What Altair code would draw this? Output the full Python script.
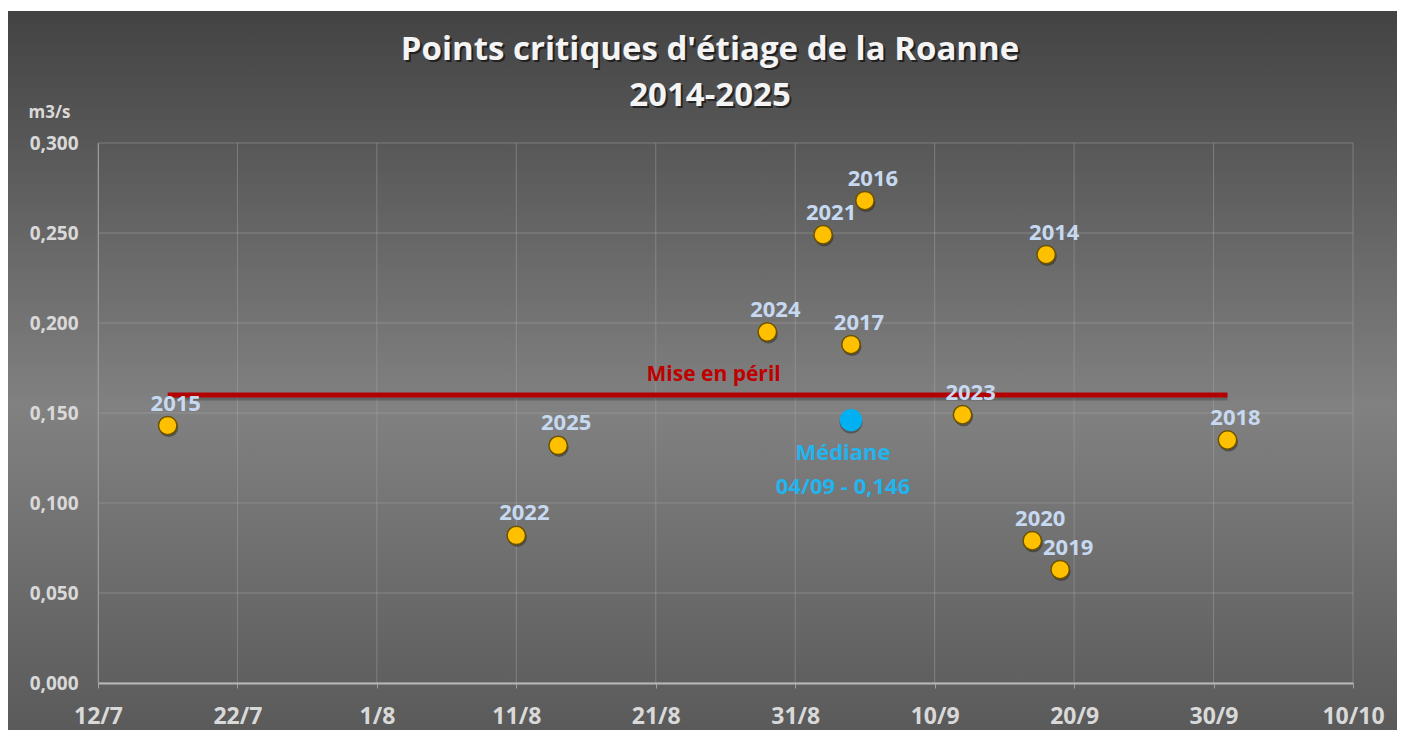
import altair as alt
import pandas as pd

# ---- data ----
title_lines = ["Points critiques d'étiage de la Roanne", "2014-2025"]
y_unit = "m3/s"

years = [2014, 2015, 2016, 2017, 2018, 2019, 2020, 2021, 2022, 2023, 2024, 2025]
crit_dates = ["18/9", "17/7", "5/9", "4/9", "1/10", "19/9", "17/9", "2/9", "11/8", "12/9", "29/8", "14/8"]
crit_values = [0.238, 0.143, 0.268, 0.188, 0.135, 0.063, 0.079, 0.249, 0.082, 0.149, 0.195, 0.132]

median_date = "4/9"
median_value = 0.146
median_text = ["Médiane", "04/09 - 0,146"]

peril_value = 0.160
peril_start = "17/7"
peril_end = "1/10"
peril_text = "Mise en péril"

x_tick_labels = ["12/7", "22/7", "1/8", "11/8", "21/8", "31/8", "10/9", "20/9", "30/9", "10/10"]
y_ticks = [0.0, 0.05, 0.10, 0.15, 0.20, 0.25, 0.30]

BASE_YEAR = 2024


def iso(dm):
    d, m = dm.split("/")
    return f"{BASE_YEAR}-{int(m):02d}-{int(d):02d}"


def dt(dm):
    d, m = dm.split("/")
    return alt.DateTime(year=BASE_YEAR, month=int(m), date=int(d), utc=True)


W, H = 1255, 540
PAD = {"left": 90, "top": 135, "right": 44, "bottom": 47}

pts = pd.DataFrame({"year": [str(y) for y in years],
                    "date": [iso(d) for d in crit_dates],
                    "value": crit_values})
med = pd.DataFrame({"date": [iso(median_date)], "value": [median_value],
                    "label": ["\n".join(median_text)]})
peril = pd.DataFrame({"date": [iso(peril_start)], "date2": [iso(peril_end)],
                      "value": [peril_value]})
s = pd.Timestamp(iso(peril_start)); e = pd.Timestamp(iso(peril_end))
peril_mid = pd.DataFrame({"date": [(s + (e - s) / 2).strftime("%Y-%m-%d")],
                          "value": [peril_value], "label": [peril_text]})
gx = pd.DataFrame({"date": [iso(t) for t in x_tick_labels]})
gy = pd.DataFrame({"value": y_ticks})

FONT = "Open Sans"
LABEL_COL = "#d9d9d9"

x_scale = alt.Scale(type="utc", domain=[dt(x_tick_labels[0]), dt(x_tick_labels[-1])])
y_scale = alt.Scale(domain=[0, 0.3])

x_axis = alt.Axis(values=[dt(t) for t in x_tick_labels], grid=False,
                  ticks=True, tickSize=5, tickColor="#a0a0a0", tickWidth=1,
                  labelExpr="utcFormat(datum.value, '%-d/%-m')", labelFlush=False,
                  labelColor=LABEL_COL, labelFont=FONT, labelFontSize=23,
                  labelFontWeight="bold", labelPadding=17,
                  domainColor="#b8b8b8", domainWidth=2, zindex=1, title=None)
y_axis = alt.Axis(values=y_ticks, grid=False, ticks=False, labelFlush=False,
                  labelExpr="replace(format(datum.value, '.3f'), '.', ',')",
                  labelColor=LABEL_COL, labelFont=FONT, labelFontSize=19,
                  labelFontWeight="bold", labelPadding=20,
                  domainColor="#9a9a9a", domainWidth=1, zindex=1,
                  title=y_unit, titleAngle=0, titleX=-70, titleY=-31,
                  titleAlign="left", titleBaseline="middle",
                  titleColor=LABEL_COL, titleFont=FONT, titleFontSize=17,
                  titleFontWeight="bold")


def X(field="date"):
    return alt.X(f"{field}:T", scale=x_scale, axis=x_axis)


def Y(field="value"):
    return alt.Y(f"{field}:Q", scale=y_scale, axis=y_axis)


bg = alt.Chart(pd.DataFrame({"k": [0]})).mark_rect(
    color=alt.LinearGradient(
        gradient="linear", x1=0, y1=0, x2=0, y2=1,
        stops=[alt.GradientStop(color="#444343", offset=0),
               alt.GradientStop(color="#828181", offset=0.55),
               alt.GradientStop(color="#5a5a5a", offset=1)])
).encode(x=alt.value(-90), x2=alt.value(W + PAD["right"]),
         y=alt.value(-132), y2=alt.value(H + PAD["bottom"]))

title_layers = []
for i, line in enumerate(title_lines):
    tdf = pd.DataFrame({"t": [line]})
    ty = -93 + 46 * i
    title_layers.append(alt.Chart(tdf).mark_text(
        color="#000000", opacity=0.55, font=FONT, fontSize=33, fontWeight="bold",
        align="center", baseline="middle", dx=2, dy=2).encode(
        x=alt.value(612), y=alt.value(ty), text="t:N"))
    title_layers.append(alt.Chart(tdf).mark_text(
        color="#f4f4f4", font=FONT, fontSize=33, fontWeight="bold",
        align="center", baseline="middle").encode(
        x=alt.value(612), y=alt.value(ty), text="t:N"))

grid_v = alt.Chart(gx).mark_rule(color="#a8a8a8", strokeWidth=1, opacity=0.45).encode(
    x=X(), y=alt.value(0), y2=alt.value(H))
grid_h = alt.Chart(gy).mark_rule(color="#a8a8a8", strokeWidth=1, opacity=0.45).encode(
    y=Y(), x=alt.value(0), x2=alt.value(W))

peril_shadow = alt.Chart(peril).mark_rule(color="#000000", strokeWidth=5, opacity=0.22).encode(
    x=X(), x2="date2:T", y=Y(), yOffset=alt.value(3))
peril_line = alt.Chart(peril).mark_rule(color="#b30000", strokeWidth=5).encode(
    x=X(), x2="date2:T", y=Y())
peril_label = alt.Chart(peril_mid).mark_text(
    color="#c00000", font=FONT, fontSize=21, fontWeight="bold", dx=16, dy=-20,
    align="center", baseline="middle").encode(x=X(), y=Y(), text="label:N")

pt_shadow = alt.Chart(pts).mark_circle(size=360, color="#000000", opacity=0.35).encode(
    x=X(), y=Y(), xOffset=alt.value(1), yOffset=alt.value(2))
points = alt.Chart(pts).mark_point(
    shape="circle", size=340, filled=True, fill="#ffc000", stroke="#6b5200",
    strokeWidth=1.5, opacity=1).encode(x=X(), y=Y())
labels = alt.Chart(pts).mark_text(
    color="#c6d9f1", font=FONT, fontSize=22, fontWeight="bold", dx=8, dy=-22,
    align="center", baseline="middle").encode(x=X(), y=Y(), text="year:N")

med_shadow = alt.Chart(med).mark_circle(size=520, color="#000000", opacity=0.3).encode(
    x=X(), y=Y(), yOffset=alt.value(2))
med_point = alt.Chart(med).mark_circle(size=500, color="#00b0f0", opacity=1).encode(
    x=X(), y=Y())
med_label = alt.Chart(med).mark_text(
    color="#22b4ee", font=FONT, fontSize=22, fontWeight="bold", dx=-8, dy=23,
    lineHeight=34, lineBreak="\n", align="center", baseline="top").encode(
    x=X(), y=Y(), text="label:N")

chart = alt.layer(
    bg, *title_layers, grid_v, grid_h, peril_shadow, peril_line, peril_label,
    pt_shadow, points, labels, med_shadow, med_point, med_label
).properties(
    width=W, height=H,
    autosize=alt.AutoSizeParams(type="none"),
    padding=PAD,
).configure(background="white").configure_view(stroke=None)

chart.save("out.html", embed_options={"renderer": "svg", "actions": False})
